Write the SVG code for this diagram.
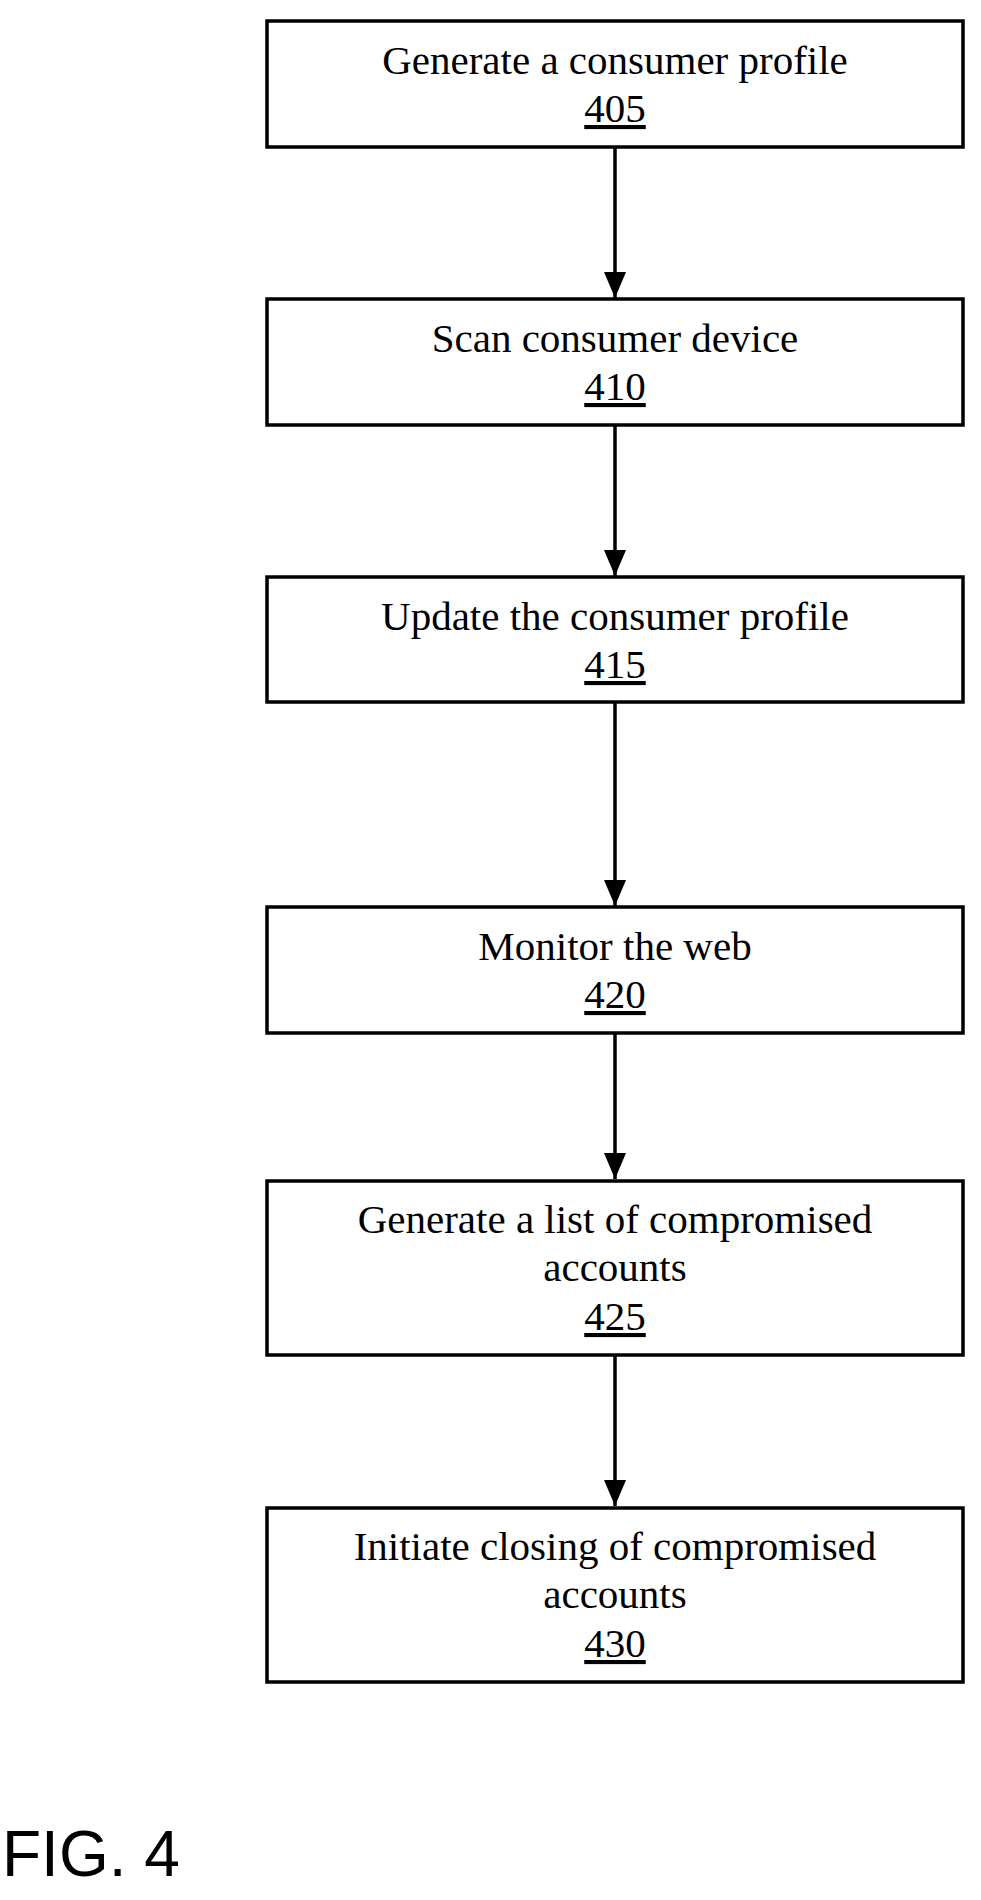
<svg xmlns="http://www.w3.org/2000/svg" width="981" height="1900" viewBox="0 0 981 1900">
<style>
rect{fill:#fff;stroke:#000;stroke-width:3.5}
text{font-family:"Liberation Serif",serif;font-size:41px;text-anchor:middle;fill:#000}
.n{text-decoration:underline}
.c line{stroke:#000;stroke-width:3.5}
</style>
<defs><marker id="a" markerWidth="22" markerHeight="26" refX="10" refY="13" orient="auto" markerUnits="userSpaceOnUse" viewBox="0 0 10 26"><path d="M0,0L10,13L0,26z" transform="rotate(0)"/></marker>
<marker id="d" markerWidth="22" markerHeight="26" refX="11" refY="26" orient="0" markerUnits="userSpaceOnUse" viewBox="0 0 22 26"><path d="M0,0L22,0L11,26z"/></marker></defs>
<rect width="981" height="1900" style="stroke:none"/>
<g class="c">
<line x1="615" y1="147" x2="615" y2="298" marker-end="url(#d)"/>
<line x1="615" y1="425" x2="615" y2="576" marker-end="url(#d)"/>
<line x1="615" y1="702" x2="615" y2="906" marker-end="url(#d)"/>
<line x1="615" y1="1033" x2="615" y2="1179" marker-end="url(#d)"/>
<line x1="615" y1="1355" x2="615" y2="1506" marker-end="url(#d)"/>
</g>
<g id="n405"><rect x="267" y="21" width="696" height="126"/><text x="615" y="74">Generate a consumer profile</text><text class="n" x="615" y="122">405</text></g>
<g id="n410"><rect x="267" y="299" width="696" height="126"/><text x="615" y="352">Scan consumer device</text><text class="n" x="615" y="400">410</text></g>
<g id="n415"><rect x="267" y="577" width="696" height="125"/><text x="615" y="630">Update the consumer profile</text><text class="n" x="615" y="678">415</text></g>
<g id="n420"><rect x="267" y="907" width="696" height="126"/><text x="615" y="960">Monitor the web</text><text class="n" x="615" y="1008">420</text></g>
<g id="n425"><rect x="267" y="1181" width="696" height="174"/><text x="615" y="1233">Generate a list of compromised</text><text x="615" y="1281">accounts</text><text class="n" x="615" y="1330">425</text></g>
<g id="n430"><rect x="267" y="1508" width="696" height="174"/><text x="615" y="1560">Initiate closing of compromised</text><text x="615" y="1608">accounts</text><text class="n" x="615" y="1657">430</text></g>
<text x="2" y="1876" style="font-family:'Liberation Sans',sans-serif;font-size:64px;text-anchor:start">FIG. 4</text>
</svg>
